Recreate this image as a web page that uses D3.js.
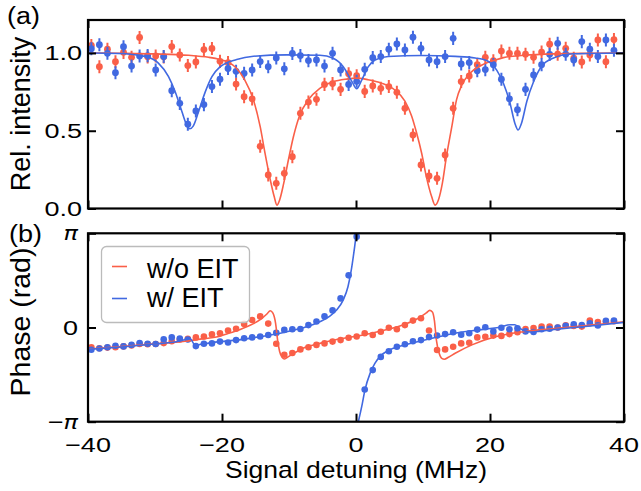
<!DOCTYPE html>
<html><head><meta charset="utf-8">
<script src="https://cdn.jsdelivr.net/npm/d3@7"></script>
<style>body{margin:0;background:#fff}svg{display:block}text{font-family:"Liberation Sans",Arial,sans-serif;fill:#000}</style>
</head><body><svg id="c" width="641" height="491"></svg>
<script>
// ---------- data ----------
const detuning = [-39.5,-38.3,-37.1,-35.9,-34.7,-33.5,-32.3,-31.1,-29.9,-28.7,
 -27.5,-26.3,-25.1,-23.9,-22.7,-21.5,-20.3,-19.1,-17.9,-16.7,
 -15.5,-14.3,-13.1,-11.9,-10.7,-9.5,-8.3,-7.1,-5.9,-4.7,
 -3.5,-2.3,-1.1,0.1,1.3,2.5,3.7,4.9,6.1,7.3,
 8.5,9.7,10.9,12.1,13.3,14.5,15.7,16.9,18.1,19.3,
 20.5,21.7,22.9,24.1,25.3,26.5,27.7,28.9,30.1,31.3,
 32.5,33.7,34.9,36.1,37.3,38.5];
const intensityNoEIT = [1.048,0.912,1.024,0.944,1.004,0.972,1.100,0.975,0.981,0.975,
 1.041,0.987,0.919,0.942,1.022,1.029,0.946,0.938,0.800,0.719,
 0.705,0.400,0.216,0.162,0.226,0.333,0.612,0.684,0.702,0.798,
 0.803,0.766,0.867,0.854,0.753,0.788,0.773,0.784,0.747,0.644,
 0.473,0.280,0.209,0.194,0.344,0.644,0.816,0.852,0.925,0.972,
 0.950,1.012,0.998,0.998,0.992,0.972,1.006,1.056,0.992,1.030,
 0.966,0.942,0.987,1.084,0.944,1.086];
const intensityEIT = [1.027,1.053,0.998,0.873,1.040,0.916,0.981,0.983,0.891,0.977,
 0.757,0.676,0.542,0.627,0.668,0.784,0.831,0.900,0.882,0.869,
 0.891,0.945,0.912,0.968,0.898,0.997,0.983,0.951,0.955,0.916,
 0.998,0.891,0.798,0.818,0.895,0.970,0.977,1.024,1.058,1.019,
 1.101,1.030,0.955,0.944,0.977,1.094,0.929,0.938,0.886,0.893,
 0.925,0.831,0.705,0.635,0.766,0.859,0.925,0.991,1.062,0.992,
 0.955,1.073,1.024,0.977,1.084,1.017];
const intensityErr = 0.042;
const phaseNoEIT = [-0.66,-0.69,-0.67,-0.66,-0.63,-0.60,-0.55,-0.56,-0.55,-0.52,
 -0.46,-0.40,-0.38,-0.33,-0.30,-0.23,-0.19,-0.10,-0.04,0.12,
 0.25,0.37,0.13,-0.54,-0.91,-0.85,-0.73,-0.66,-0.58,-0.53,
 -0.47,-0.42,-0.34,-0.30,-0.19,-0.25,-0.14,-0.01,-0.06,0.08,
 0.23,0.31,-0.10,-0.75,-0.73,-0.64,-0.53,-0.51,-0.33,-0.31,
 -0.27,-0.28,-0.22,-0.16,-0.05,-0.02,0.03,0.03,0.00,0.07,
 0.05,0.03,0.23,0.18,0.20,0.21];
const phaseEIT = [-0.74,-0.70,-0.66,-0.61,-0.63,-0.58,-0.52,-0.54,-0.55,-0.39,
 -0.33,-0.37,-0.40,-0.62,-0.54,-0.53,-0.47,-0.50,-0.42,-0.36,
 -0.33,-0.30,-0.25,-0.18,-0.08,-0.06,-0.05,0.08,0.20,0.37,
 0.57,0.97,1.74,3.03,-2.07,-1.42,-0.98,-0.79,-0.64,-0.56,
 -0.46,-0.42,-0.32,-0.27,-0.22,-0.16,-0.24,-0.19,-0.07,0.01,
 -0.13,-0.01,-0.06,-0.03,-0.13,-0.15,-0.06,-0.04,0.00,0.06,
 0.11,0.08,0.14,0.07,0.22,0.23];

// fit curves
const fitIntNoEIT_x = [-40,-35,-30,-25,-22,-20.3,-19.1,-17.8,-16.6,-15.3,-14.3,-13.6,-12.8,-12.2,-11.8,-11.4,-10.8,-10.1,-9.35,-8.4,-7.1,-5.4,-3.4,-1.4,0,1.8,3.8,5.8,7.3,8.3,9.05,9.8,10.5,11.3,11.8,12.3,12.9,13.5,14.3,15.0,15.8,17.0,18.8,20.8,22,25,30,35,40];
const fitIntNoEIT_y = [1.0,0.998,0.994,0.985,0.972,0.958,0.942,0.90,0.826,0.698,0.526,0.36,0.185,0.075,0.022,0.055,0.16,0.31,0.46,0.60,0.70,0.773,0.815,0.832,0.838,0.828,0.806,0.762,0.69,0.595,0.485,0.355,0.205,0.075,0.022,0.055,0.165,0.335,0.526,0.698,0.794,0.869,0.923,0.955,0.97,0.985,0.995,0.998,1.0];
const fitIntEIT_x = [-40,-35.5,-31.5,-29.5,-28,-27,-26,-25.3,-24.8,-24.3,-23.5,-22.5,-21.5,-20.3,-17.8,-15.3,-10.3,-5.4,-3.4,-1.9,-0.6,0.1,0.85,1.84,2.84,4.8,9.8,14.8,17.8,19.5,21.0,22.0,23.0,23.7,24.2,24.7,25.5,26.5,27.7,29.4,32.4,40];
const fitIntEIT_y = [1.0,0.997,0.978,0.935,0.85,0.752,0.625,0.54,0.513,0.53,0.623,0.75,0.848,0.91,0.958,0.979,0.988,0.985,0.966,0.912,0.816,0.77,0.826,0.912,0.955,0.977,0.984,0.978,0.968,0.952,0.89,0.805,0.676,0.55,0.505,0.548,0.69,0.815,0.915,0.966,0.995,1.0];
const fitPhNoEIT_x = [-40,-35.5,-30.5,-25.5,-23,-20.3,-19.1,-17.8,-16.6,-15.3,-14.3,-13.3,-12.8,-12.4,-12.0,-11.7,-11.4,-11.0,-10.7,-10.3,-9.35,-7.9,-5.4,-2.9,-0.2,2.3,4.8,7.3,9.3,10.5,11.0,11.4,11.7,12.0,12.4,12.8,13.2,13.8,14.8,17.3,20.8,25,30,35,40];
const fitPhNoEIT_y = [-0.72,-0.64,-0.55,-0.46,-0.38,-0.29,-0.20,-0.11,0.0,0.13,0.26,0.45,0.56,0.48,0.14,-0.42,-0.80,-1.0,-1.05,-1.0,-0.87,-0.69,-0.53,-0.40,-0.30,-0.19,-0.06,0.11,0.31,0.49,0.57,0.52,0.24,-0.42,-0.85,-1.03,-1.06,-0.99,-0.86,-0.58,-0.31,-0.14,-0.03,0.08,0.19];
const fitPhEIT_x1 = [-40,-35.5,-30.5,-26.5,-25.5,-25.0,-24.6,-24.2,-23.8,-23.2,-22,-20.3,-17.8,-15.3,-12.8,-10.3,-7.9,-5.4,-3.9,-2.9,-1.9,-1.2,-0.7,-0.2,0.05];
const fitPhEIT_y1 = [-0.73,-0.66,-0.56,-0.46,-0.40,-0.35,-0.40,-0.55,-0.60,-0.56,-0.52,-0.47,-0.42,-0.34,-0.25,-0.14,-0.01,0.19,0.38,0.58,0.92,1.36,1.92,2.70,3.1416];
const fitPhEIT_x2 = [0.35,0.85,1.34,2.1,2.84,3.8,4.8,7.3,9.8,12.3,14.8,17.3,19.8,21.5,23.0,23.7,24.3,25.2,26.0,27.5,30,35,40];
const fitPhEIT_y2 = [-3.1416,-2.64,-2.08,-1.53,-1.19,-0.92,-0.77,-0.58,-0.44,-0.31,-0.19,-0.11,-0.04,0.01,0.09,0.09,0.0,-0.12,-0.15,-0.12,-0.06,0.05,0.17];

const xTicks = [-40,-20,0,20,40];
const intTicks = [0,0.5,1.0];
const phaseTicks = [-Math.PI,0,Math.PI];
const phaseTickLabels = ["−π","0","π"];
const seriesNames = ["w/o EIT","w/ EIT"];
const RED = "#fa5f48", BLUE = "#4169e1";

// ---------- layout ----------
const svg = d3.select("#c");
const L = 88, R = 624;
const A = {top:20, bot:208.5}, B = {top:233.3, bot:421.7};
const x = d3.scaleLinear().domain([-40,40]).range([L,R]);
const yI = d3.scaleLinear().domain([0,1.212]).range([A.bot,A.top]);
const yP = d3.scaleLinear().domain([-Math.PI,Math.PI]).range([B.bot,B.top]);

const defs = svg.append("defs");
defs.append("clipPath").attr("id","clipA").append("rect").attr("x",L).attr("y",A.top).attr("width",R-L).attr("height",A.bot-A.top);
defs.append("clipPath").attr("id","clipB").append("rect").attr("x",L).attr("y",B.top).attr("width",R-L).attr("height",B.bot-B.top);

function label(g, px, py, s, size, sx, sy, anchor, rot){
  return g.append("text")
    .attr("transform", `translate(${px},${py}) scale(${sx},${sy})` + (rot?` rotate(${rot})`:""))
    .attr("text-anchor", anchor).style("font-size", size+"px").text(s);
}

function axes(yScale, yTicks, box){
  const g = svg.append("g");
  const tk = 8;
  const mk = (axis, tx, ty) => {
    const a = g.append("g").attr("transform",`translate(${tx},${ty})`).call(axis.tickSizeInner(-tk).tickSizeOuter(0).tickFormat(""));
    a.select(".domain").remove();
    a.selectAll(".tick line").attr("stroke","#000").attr("stroke-width",2);
  };
  mk(d3.axisBottom(x).tickValues(xTicks), 0, box.bot);
  mk(d3.axisTop(x).tickValues(xTicks), 0, box.top);
  mk(d3.axisLeft(yScale).tickValues(yTicks), L, 0);
  mk(d3.axisRight(yScale).tickValues(yTicks), R, 0);
  g.append("rect").attr("x",L).attr("y",box.top).attr("width",R-L).attr("height",box.bot-box.top)
    .attr("fill","none").attr("stroke","#000").attr("stroke-width",2.2);
  return g;
}

// ---------- panel (a) ----------
const pa = svg.append("g").attr("clip-path","url(#clipA)");
function errPoints(g, vals, color){
  const d = detuning.map((dx,i)=>({x:dx,y:vals[i]}));
  g.append("g").selectAll("line").data(d).join("line")
    .attr("x1",p=>x(p.x)).attr("x2",p=>x(p.x))
    .attr("y1",p=>yI(p.y-intensityErr)).attr("y2",p=>yI(p.y+intensityErr))
    .attr("stroke",color).attr("stroke-width",2);
  g.append("g").selectAll("circle").data(d).join("circle")
    .attr("cx",p=>x(p.x)).attr("cy",p=>yI(p.y)).attr("r",3.4).attr("fill",color);
}
errPoints(pa, intensityNoEIT, RED);
errPoints(pa, intensityEIT, BLUE);
function fit(g, xs, ys, yScale, color){
  const line = d3.line().x(d=>x(d[0])).y(d=>yScale(d[1])).curve(d3.curveMonotoneX);
  g.append("path").attr("d", line(xs.map((v,i)=>[v,ys[i]]))).attr("fill","none").attr("stroke",color).attr("stroke-width",1.6);
}
fit(pa, fitIntNoEIT_x, fitIntNoEIT_y, yI, RED);
fit(pa, fitIntEIT_x, fitIntEIT_y, yI, BLUE);
axes(yI, intTicks, A);

// ---------- panel (b) ----------
const pb = svg.append("g").attr("clip-path","url(#clipB)");
function dots(g, vals, color){
  g.append("g").selectAll("circle").data(detuning.map((dx,i)=>[dx,vals[i]])).join("circle")
    .attr("cx",d=>x(d[0])).attr("cy",d=>yP(d[1])).attr("r",3.3).attr("fill",color);
}
dots(pb, phaseNoEIT, RED);
dots(pb, phaseEIT, BLUE);
fit(pb, fitPhNoEIT_x, fitPhNoEIT_y, yP, RED);
fit(pb, fitPhEIT_x1, fitPhEIT_y1, yP, BLUE);
fit(pb, fitPhEIT_x2, fitPhEIT_y2, yP, BLUE);
axes(yP, phaseTicks, B);

// legend
const lg = svg.append("g");
lg.append("rect").attr("x",101.5).attr("y",246.5).attr("width",148).attr("height",76).attr("rx",5)
  .attr("fill","#fff").attr("fill-opacity",0.8).attr("stroke","#bbb").attr("stroke-width",1.3);
[[RED,266.5,277.5],[BLUE,298.5,306.5]].forEach((r,i)=>{
  lg.append("line").attr("x1",112).attr("x2",127).attr("y1",r[1]).attr("y2",r[1]).attr("stroke",r[0]).attr("stroke-width",1.6);
  label(lg,147,r[2],seriesNames[i],27,1,1,"start");
});

// ---------- text ----------
const T = svg.append("g");
const fmt1 = d3.format(".1f");
intTicks.forEach(v=>label(T,82,yI(v)+7.5,fmt1(v),27,1,0.78,"end"));
phaseTicks.forEach((v,i)=>{
  const t = label(T,78,yP(v)+7,"",27,1,0.78,"end");
  const s = phaseTickLabels[i];
  if(s.includes("π")){
    if(s.startsWith("−")) t.append("tspan").text("−");
    t.append("tspan").style("font-family","'DejaVu Sans'").style("font-style","italic").style("font-size","24px").text("π");
  } else t.text(s);
});
xTicks.forEach(v=>label(T,x(v),452,d3.format("d")(v).replace("-","−"),27,1,0.78,"middle"));
label(T,356,477.5,"Signal detuning (MHz)",26.5,1,0.87,"middle");
label(T,30,114,"Rel. intensity",27,1,1,"middle",-90);
label(T,30,322,"Phase (rad)",28.5,1,1,"middle",-90);
label(T,7,23.5,"(a)",27,1,0.86,"start");
label(T,9,242,"(b)",27,1,0.86,"start");
</script></body></html>
